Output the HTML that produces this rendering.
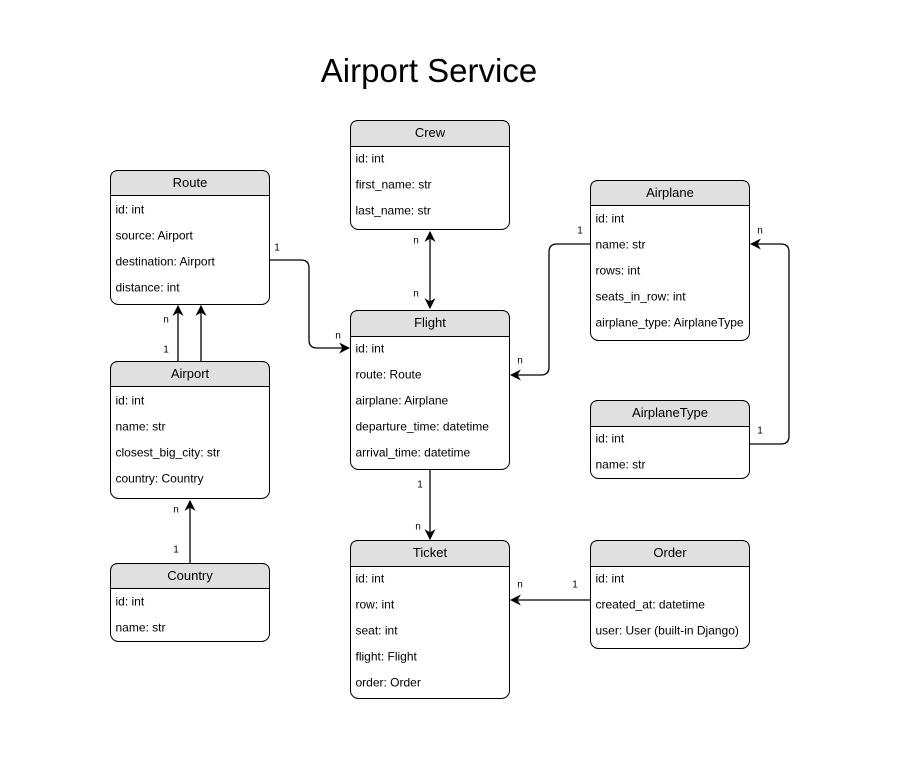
<!DOCTYPE html>
<html><head><meta charset="utf-8"><style>
html,body{margin:0;padding:0;background:#fff;}
svg{display:block;font-family:"Liberation Sans",Arial,sans-serif;}
.h{font-size:13px;text-anchor:middle;dominant-baseline:central;}
.r{font-size:12px;dominant-baseline:central;}
.l{font-size:10px;text-anchor:middle;dominant-baseline:central;}
.c{fill:none;stroke:#000;stroke-width:1.3;}
</style></head><body>
<svg width="902" height="780" viewBox="0 0 902 780" xmlns="http://www.w3.org/2000/svg">
<defs>
<marker id="a" viewBox="0 0 10 10" refX="9" refY="5" markerWidth="11" markerHeight="11" orient="auto-start-reverse" markerUnits="userSpaceOnUse">
<path d="M0,0 L10,5 L0,10 L3,5 Z" fill="#000"/>
</marker>
</defs>
<text x="429" y="82" font-size="33" text-anchor="middle">Airport Service</text>

<path class="c" d="M430,232 V308" marker-start="url(#a)" marker-end="url(#a)"/>
<path class="c" d="M270,260 H301 Q309,260 309,268 V340 Q309,348 317,348 H349" marker-end="url(#a)"/>
<path class="c" d="M178,361 V306" marker-end="url(#a)"/>
<path class="c" d="M201,361 V306" marker-end="url(#a)"/>
<path class="c" d="M190,563 V501" marker-end="url(#a)"/>
<path class="c" d="M590,244 H557 Q549,244 549,252 V367 Q549,375 541,375 H511" marker-end="url(#a)"/>
<path class="c" d="M750,444 H781 Q789,444 789,436 V252 Q789,244 781,244 H751" marker-end="url(#a)"/>
<path class="c" d="M430,470 V539" marker-end="url(#a)"/>
<path class="c" d="M590,600 H511" marker-end="url(#a)"/>

<text class="l" x="416" y="241">n</text><text class="l" x="416" y="294">n</text>
<text class="l" x="277" y="248">1</text><text class="l" x="338" y="336">n</text>
<text class="l" x="166" y="320">n</text><text class="l" x="166" y="350">1</text>
<text class="l" x="176" y="510">n</text><text class="l" x="176" y="550">1</text>
<text class="l" x="580" y="231">1</text><text class="l" x="520" y="361">n</text>
<text class="l" x="760" y="231">n</text><text class="l" x="760" y="431">1</text>
<text class="l" x="420" y="485">1</text><text class="l" x="418" y="527">n</text>
<text class="l" x="575" y="585">1</text><text class="l" x="520" y="585">n</text>

<g transform="translate(350.5,120.5)">
<rect width="159" height="109" rx="8" fill="#fff" stroke="#000"/>
<path d="M0,26 V8 Q0,0 8,0 H151 Q159,0 159,8 V26 Z" fill="#e0e0e0" stroke="#000"/>
<text class="h" x="79.5" y="12">Crew</text>
<text class="r" x="5" y="38">id: int</text><text class="r" x="5" y="64">first_name: str</text><text class="r" x="5" y="90">last_name: str</text>
</g>
<g transform="translate(110.5,170.5)">
<rect width="159" height="134" rx="8" fill="#fff" stroke="#000"/>
<path d="M0,25 V8 Q0,0 8,0 H151 Q159,0 159,8 V25 Z" fill="#e0e0e0" stroke="#000"/>
<text class="h" x="79.5" y="12">Route</text>
<text class="r" x="5" y="39">id: int</text><text class="r" x="5" y="65">source: Airport</text><text class="r" x="5" y="91">destination: Airport</text><text class="r" x="5" y="117">distance: int</text>
</g>
<g transform="translate(110.5,361.5)">
<rect width="159" height="137" rx="8" fill="#fff" stroke="#000"/>
<path d="M0,25 V8 Q0,0 8,0 H151 Q159,0 159,8 V25 Z" fill="#e0e0e0" stroke="#000"/>
<text class="h" x="79.5" y="12">Airport</text>
<text class="r" x="5" y="39">id: int</text><text class="r" x="5" y="65">name: str</text><text class="r" x="5" y="91">closest_big_city: str</text><text class="r" x="5" y="117">country: Country</text>
</g>
<g transform="translate(110.5,563.5)">
<rect width="159" height="78" rx="8" fill="#fff" stroke="#000"/>
<path d="M0,25 V8 Q0,0 8,0 H151 Q159,0 159,8 V25 Z" fill="#e0e0e0" stroke="#000"/>
<text class="h" x="79.5" y="12">Country</text>
<text class="r" x="5" y="38">id: int</text><text class="r" x="5" y="64">name: str</text>
</g>
<g transform="translate(350.5,310.5)">
<rect width="159" height="159" rx="8" fill="#fff" stroke="#000"/>
<path d="M0,26 V8 Q0,0 8,0 H151 Q159,0 159,8 V26 Z" fill="#e0e0e0" stroke="#000"/>
<text class="h" x="79.5" y="12">Flight</text>
<text class="r" x="5" y="38">id: int</text><text class="r" x="5" y="64">route: Route</text><text class="r" x="5" y="90">airplane: Airplane</text><text class="r" x="5" y="116">departure_time: datetime</text><text class="r" x="5" y="142">arrival_time: datetime</text>
</g>
<g transform="translate(350.5,540.5)">
<rect width="159" height="158" rx="8" fill="#fff" stroke="#000"/>
<path d="M0,26 V8 Q0,0 8,0 H151 Q159,0 159,8 V26 Z" fill="#e0e0e0" stroke="#000"/>
<text class="h" x="79.5" y="12">Ticket</text>
<text class="r" x="5" y="38">id: int</text><text class="r" x="5" y="64">row: int</text><text class="r" x="5" y="90">seat: int</text><text class="r" x="5" y="116">flight: Flight</text><text class="r" x="5" y="142">order: Order</text>
</g>
<g transform="translate(590.5,180.5)">
<rect width="159" height="160" rx="8" fill="#fff" stroke="#000"/>
<path d="M0,25 V8 Q0,0 8,0 H151 Q159,0 159,8 V25 Z" fill="#e0e0e0" stroke="#000"/>
<text class="h" x="79.5" y="12">Airplane</text>
<text class="r" x="5" y="38">id: int</text><text class="r" x="5" y="64">name: str</text><text class="r" x="5" y="90">rows: int</text><text class="r" x="5" y="116">seats_in_row: int</text><text class="r" x="5" y="142">airplane_type: AirplaneType</text>
</g>
<g transform="translate(590.5,400.5)">
<rect width="159" height="78" rx="8" fill="#fff" stroke="#000"/>
<path d="M0,26 V8 Q0,0 8,0 H151 Q159,0 159,8 V26 Z" fill="#e0e0e0" stroke="#000"/>
<text class="h" x="79.5" y="12">AirplaneType</text>
<text class="r" x="5" y="38">id: int</text><text class="r" x="5" y="64">name: str</text>
</g>
<g transform="translate(590.5,540.5)">
<rect width="159" height="108" rx="8" fill="#fff" stroke="#000"/>
<path d="M0,26 V8 Q0,0 8,0 H151 Q159,0 159,8 V26 Z" fill="#e0e0e0" stroke="#000"/>
<text class="h" x="79.5" y="12">Order</text>
<text class="r" x="5" y="38">id: int</text><text class="r" x="5" y="64">created_at: datetime</text><text class="r" x="5" y="90">user: User (built-in Django)</text>
</g>
</svg>
</body></html>
